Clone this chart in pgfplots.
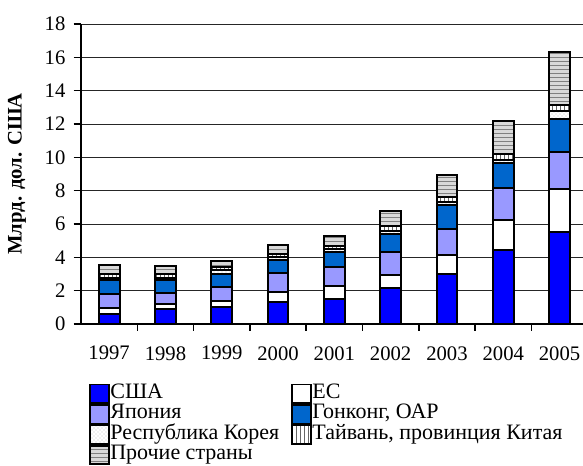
\documentclass[border=0pt]{standalone}
\usepackage{fontspec}
\setmainfont{Liberation Serif}
\usepackage{pgfplots}
\pgfplotsset{compat=1.18}
\usepackage{pgfplotstable}
\usetikzlibrary{patterns}
\definecolor{cusa}{HTML}{0000FF}
\definecolor{cjap}{HTML}{9999FF}
\definecolor{chk}{HTML}{0066CC}
\pgfplotstableread{
x usa eu jap hk kor tai oth
0 0.58 0.36 0.84 0.86 0.10 0.26 0.54
1 0.90 0.30 0.68 0.76 0.11 0.23 0.52
2 1.00 0.38 0.86 0.76 0.24 0.16 0.38
3 1.34 0.60 1.14 0.76 0.20 0.16 0.54
4 1.50 0.75 1.15 0.94 0.14 0.20 0.60
5 2.15 0.80 1.39 1.08 0.18 0.30 0.87
6 3.00 1.14 1.54 1.45 0.20 0.30 1.29
7 4.44 1.79 1.90 1.53 0.20 0.36 1.95
8 5.54 2.53 2.25 1.97 0.48 0.38 3.18
}\datatable
\begin{document}
\fontsize{15}{17}\selectfont
\begin{tikzpicture}
\useasboundingbox (-60.75pt,-106.5pt) rectangle (376.5pt,243pt);
\begin{axis}[
  at={(0,0)}, anchor=south west,
  scale only axis, width=376.5pt, height=225pt,
  font=\fontsize{15.5}{17}\selectfont,
  /pgf/number format/assume math mode=true,
  ybar stacked, bar width=0.37,
  xmin=-0.5, xmax=8.416, ymin=0, ymax=18,
  ytick={0,2,...,18},
  xtick={0,...,8},
  xticklabels={1997,1998,1999,2000,2001,2002,2003,2004,2005},
  minor xtick={0.5,1.5,...,7.5},
  axis lines*=left,
  axis line style={line width=1.3pt},
  x tick style={draw=none},
  minor x tick style={draw=black, line width=1.1pt},
  y tick style={draw=black, line width=1.1pt},
  tick align=outside,
  major tick length=5.5pt,
  minor tick length=5pt,
  xticklabel style={yshift=-6pt},
  yticklabel style={xshift=-1pt},
  ymajorgrids,
  grid style={black!85, line width=0.6pt},
  ylabel={\bfseries Млрд. дол. США},
  every axis y label/.style={at={(axis description cs:0,0.5)}, xshift=-48pt, rotate=90, anchor=center},
  legend columns=2,
  legend cell align=left,
  legend style={at={(axis description cs:0,0)}, anchor=north west, xshift=3pt, yshift=-42.5pt,
    draw=none, fill=none, font=\fontsize{16.5}{18}\selectfont,
    nodes={inner sep=0pt, text height=10.9pt, text depth=4.1pt, anchor=west},
    column sep=0pt, row sep=0pt},
  legend image code/.code={\draw[#1, line width=1.3pt] (0pt,-7pt) rectangle (14pt,7pt);},
  every axis plot/.append style={draw=black, line width=1.5pt},
]
\addplot[fill=cusa] table[x=x,y=usa]{\datatable};
\addlegendentry{\kern0.5pt США}
\addplot[fill=white] table[x=x,y=eu]{\datatable};
\addlegendentry{\kern0.5pt ЕС}
\addplot[fill=cjap] table[x=x,y=jap]{\datatable};
\addlegendentry{\kern0.5pt Япония}
\addplot[fill=chk] table[x=x,y=hk]{\datatable};
\addlegendentry{\kern0.5pt Гонконг, ОАР}
\addplot[preaction={fill=white}, pattern=crosshatch dots, pattern color=gray!45] table[x=x,y=kor]{\datatable};
\addlegendentry{\kern0.5pt Республика Корея\kern9pt\null}
\addplot[preaction={fill=white}, pattern=vertical lines, pattern color=gray!80!black] table[x=x,y=tai]{\datatable};
\addlegendentry{\kern0.5pt Тайвань, провинция Китая}
\addplot[preaction={fill=gray!30}, pattern=horizontal lines, pattern color=gray] table[x=x,y=oth]{\datatable};
\addlegendentry{\kern0.5pt Прочие страны}
\end{axis}
\end{tikzpicture}
\end{document}
